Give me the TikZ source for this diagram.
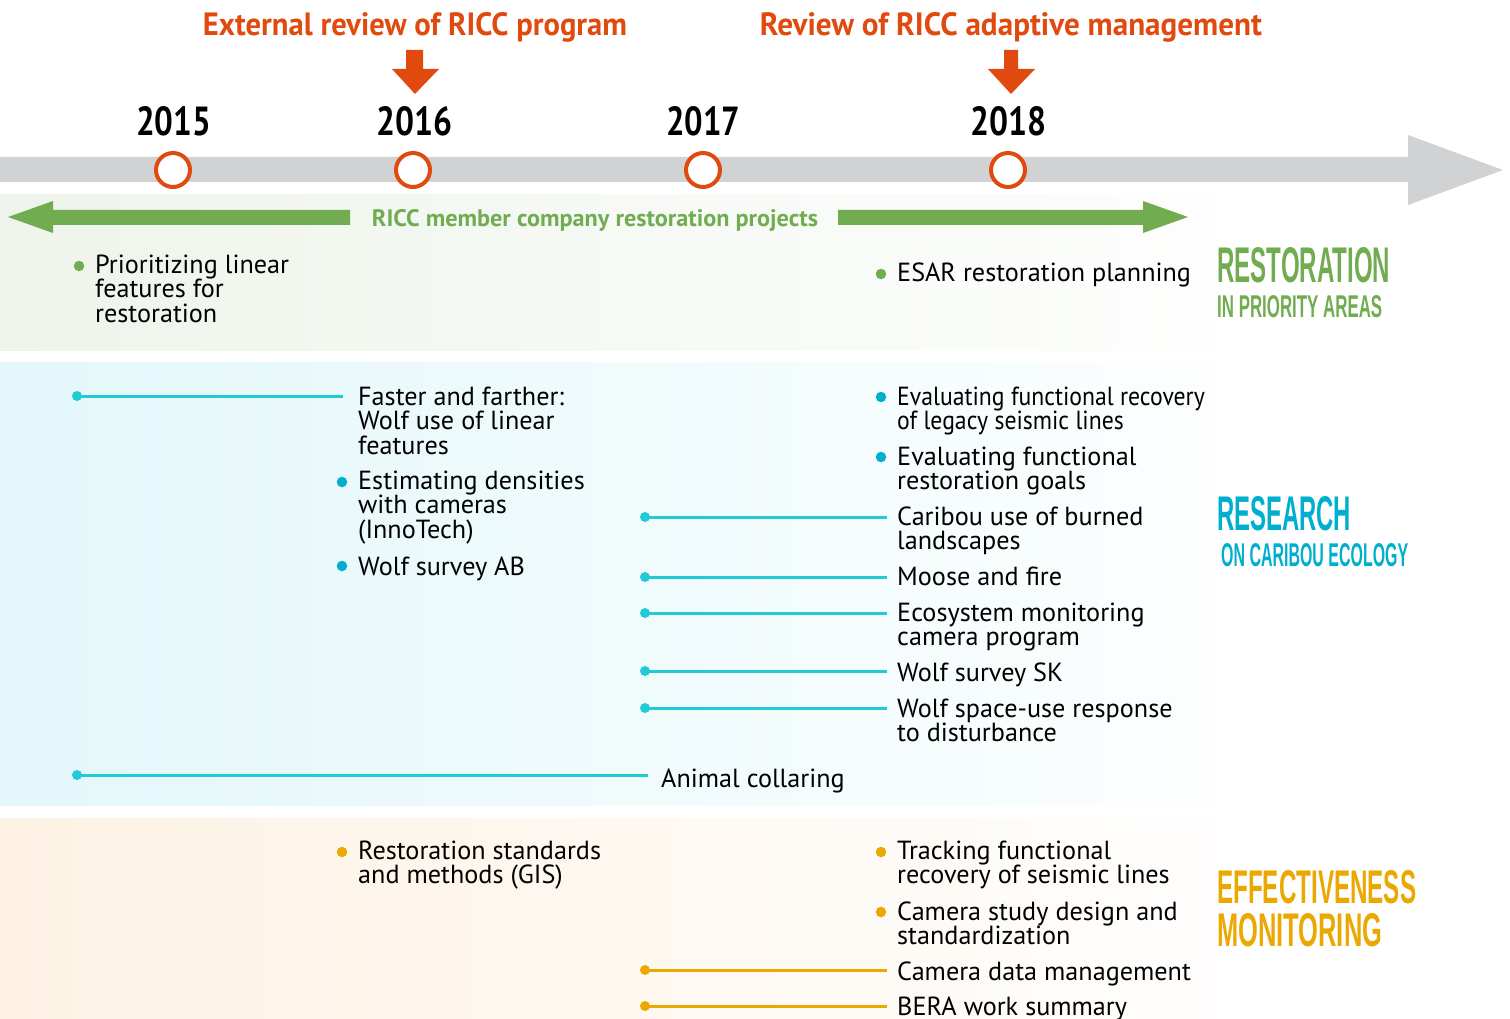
\documentclass[tikz,border=0pt]{standalone}
\usepackage{fontspec}
\usepackage{graphicx}
\setmainfont{PT Sans}
\newfontfamily\headf{Liberation Sans}
\definecolor{ricgreen}{HTML}{72AC50}
\definecolor{riccyan}{HTML}{00AFCD}
\definecolor{lncyan}{HTML}{22CAD8}
\definecolor{ricgold}{HTML}{EBA800}
\definecolor{ricorange}{HTML}{E04A0E}
\definecolor{ricgrey}{HTML}{D1D2D4}
\definecolor{bandg}{HTML}{EEF4EB}
\definecolor{bandc}{HTML}{E3F7FA}
\definecolor{bando}{HTML}{FDF2E4}
\newcommand\bodyfont{\fontsize{26.2}{24.5}\selectfont}
\newcommand\stk[1]{\vtop{\baselineskip=24.5pt\lineskiplimit=-100pt\halign{##\hfil\cr#1\crcr}}}
\tikzset{
  txt/.style={anchor=base west,inner sep=0pt,font=\bodyfont,text=black},
  bul/.style={circle,fill=#1,inner sep=0pt,minimum size=10.5pt},
  dotc/.style={circle,fill=#1,inner sep=0pt,minimum size=10pt},
  cl/.style={draw=#1,line width=3pt,shorten >=10pt},
  yearring/.style={circle,draw=ricorange,line width=4pt,fill=white,inner sep=0pt,minimum size=34pt},
  yearlbl/.style={anchor=base,inner sep=0pt,font=\bfseries},
  hd/.style={anchor=base west,inner sep=0pt,font=\headf\bfseries,text=#1},
}
\begin{document}
\begin{tikzpicture}[x=1pt,y=-1pt]
\useasboundingbox (0,0) rectangle (1510,1019);
% bands
\fill[left color=bandg,right color=bandg!10] (0,195) rectangle (1215,350);
\fill[left color=bandc,right color=bandc!10] (0,362) rectangle (1215,805);
\fill[left color=bando,right color=bando!10] (0,818) rectangle (1215,1019);
% timeline arrow
\fill[ricgrey] (0,157) -- (1408,157) -- (1408,135) -- (1503,170) -- (1408,205) -- (1408,182) -- (0,182) -- cycle;
% review arrows
\fill[ricorange] (406,50) -- (423,50) -- (423,69) -- (439,69) -- (415,94) -- (392,69) -- (406,69) -- cycle;
\fill[ricorange] (1004,50) -- (1018,50) -- (1018,69) -- (1035,69) -- (1011,94) -- (988,69) -- (1004,69) -- cycle;
\node[anchor=base,inner sep=0pt,text=ricorange,font=\bfseries] (rev1) at (415,36) {\resizebox{424pt}{23pt}{External review of RICC program}};
\node[anchor=base,inner sep=0pt,text=ricorange,font=\bfseries] (rev2) at (1011,36) {\resizebox{502pt}{23pt}{Review of RICC adaptive management}};
% years
\node[yearring] (c15) at (173,170) {};
\node[yearring] (c16) at (413,170) {};
\node[yearring] (c17) at (703,170) {};
\node[yearring] (c18) at (1008,170) {};
\node[yearlbl] (y15) at (173.5,136) {\resizebox{75pt}{29pt}{2015}};
\node[yearlbl] (y16) at (414,136) {\resizebox{76pt}{29pt}{2016}};
\node[yearlbl] (y17) at (703,136) {\resizebox{74pt}{29pt}{2017}};
\node[yearlbl] (y18) at (1008,136) {\resizebox{76pt}{29pt}{2018}};
% green double arrow
\fill[ricgreen] (8,217) -- (53,201) -- (53,210) -- (350,210) -- (350,225) -- (53,225) -- (53,233) -- cycle;
\fill[ricgreen] (838,210) -- (1143,210) -- (1143,201) -- (1188,217) -- (1143,233) -- (1143,225) -- (838,225) -- cycle;
\node[anchor=base,inner sep=0pt,text=ricgreen,font=\bfseries] (proj) at (595,226) {\resizebox{446pt}{17pt}{RICC member company restoration projects}};
% headings
\node[hd=ricgreen] (h1) at (1217,282) {\resizebox{173pt}{35pt}{RESTORATION}};
\node[hd=ricgreen] (h1b) at (1217,317) {\resizebox{165pt}{22pt}{IN PRIORITY AREAS}};
\node[hd=riccyan] (h2) at (1217,530) {\resizebox{134pt}{34pt}{RESEARCH}};
\node[hd=riccyan] (h2b) at (1221,566) {\resizebox{187pt}{23pt}{ON CARIBOU ECOLOGY}};
\node[hd=ricgold] (h3) at (1217,903) {\resizebox{199pt}{33pt}{EFFECTIVENESS}};
\node[hd=ricgold] (h3b) at (1217,946) {\resizebox{165pt}{33pt}{MONITORING}};
% restoration items
\node[bul=ricgreen] (bg1) at (79,266) {};
\node[txt] (r1) at (95,273) {\stk{Prioritizing linear\cr features for\cr restoration}};
\node[bul=ricgreen] (bg2) at (881,274) {};
\node[txt] (r2) at (897,281) {\stk{ESAR restoration planning}};
% research items
\node[dotc=lncyan] (d1) at (77,396) {};
\node[txt] (s1) at (358,405) {\stk{Faster and farther:\cr Wolf use of linear\cr features}};
\draw[cl=lncyan,shorten >=15pt] (d1.center) -- (d1 -| s1.west);
\node[bul=riccyan] (bs2) at (342,482) {};
\node[txt] (s2) at (358,489) {\stk{Estimating densities\cr with cameras\cr (InnoTech)}};
\node[bul=riccyan] (bs3) at (342,566) {};
\node[txt] (s3) at (358,575) {\stk{Wolf survey AB}};
\node[bul=riccyan] (bs4) at (881,397) {};
\node[txt] (s4) at (897,405) {\scalebox{0.905}[1]{\stk{Evaluating functional recovery\cr of legacy seismic lines}}};
\node[bul=riccyan] (bs5) at (881,457) {};
\node[txt] (s5) at (897,465) {\stk{Evaluating functional\cr restoration goals}};
\node[dotc=lncyan] (d6) at (645,517) {};
\node[txt] (s6) at (897,525) {\stk{Caribou use of burned\cr landscapes}};
\draw[cl=lncyan] (d6.center) -- (d6 -| s6.west);
\node[dotc=lncyan] (d7) at (645,577) {};
\node[txt] (s7) at (897,585) {\stk{Moose and fire}};
\draw[cl=lncyan] (d7.center) -- (d7 -| s7.west);
\node[dotc=lncyan] (d8) at (645,613) {};
\node[txt] (s8) at (897,621) {\stk{Ecosystem monitoring\cr camera program}};
\draw[cl=lncyan] (d8.center) -- (d8 -| s8.west);
\node[dotc=lncyan] (d9) at (645,671) {};
\node[txt] (s9) at (897,681) {\stk{Wolf survey SK}};
\draw[cl=lncyan] (d9.center) -- (d9 -| s9.west);
\node[dotc=lncyan] (d10) at (645,708) {};
\node[txt] (s10) at (897,717) {\stk{Wolf space-use response\cr to disturbance}};
\draw[cl=lncyan] (d10.center) -- (d10 -| s10.west);
\node[dotc=lncyan] (d11) at (77,775) {};
\node[txt] (s11) at (661,787) {\stk{Animal collaring}};
\draw[cl=lncyan,shorten >=13pt] (d11.center) -- (d11 -| s11.west);
% monitoring items
\node[bul=ricgold] (bm1) at (342,852) {};
\node[txt] (m1) at (358,859) {\stk{Restoration standards\cr and methods (GIS)}};
\node[bul=ricgold] (bm2) at (881,852) {};
\node[txt] (m2) at (897,859) {\stk{Tracking functional\cr recovery of seismic lines}};
\node[bul=ricgold] (bm3) at (881,912) {};
\node[txt] (m3) at (897,920) {\stk{Camera study design and\cr standardization}};
\node[dotc=ricgold] (d12) at (645,970) {};
\node[txt] (m4) at (897,980) {\stk{Camera data management}};
\draw[cl=ricgold] (d12.center) -- (d12 -| m4.west);
\node[dotc=ricgold] (d13) at (645,1006) {};
\node[txt] (m5) at (897,1015) {\stk{BERA work summary}};
\draw[cl=ricgold] (d13.center) -- (d13 -| m5.west);
\end{tikzpicture}
\end{document}
